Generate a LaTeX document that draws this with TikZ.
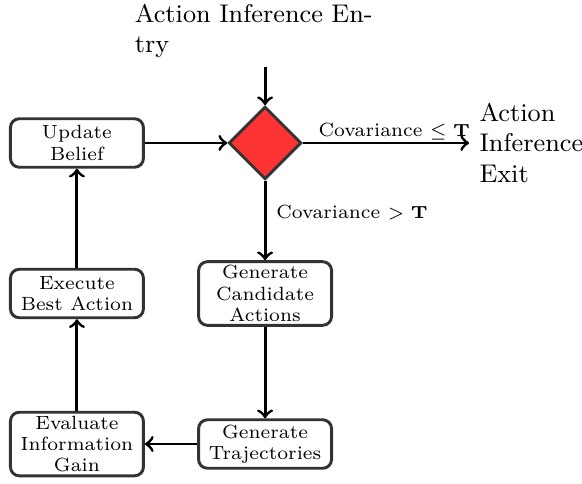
\documentclass[tikz,border=0pt]{standalone}
\usepackage{amsmath, amssymb}
\usepackage{tikz}
\usetikzlibrary{arrows,shapes}
\usepackage{xcolor}
\newcommand{\boxfont}{\fontsize{6.5}{7.2}\selectfont}
\newcommand{\termfont}{\fontsize{8.7}{10.4}\selectfont}
\tikzstyle{process}=[draw=black!80, line width=1pt, rounded corners=3pt, fill=white,
  minimum width=1.59cm, minimum height=.58cm, inner sep=1.3pt, align=center, font=\boxfont]
\tikzstyle{decision}=[diamond, draw=black!80, line width=1pt, fill=red!80!white,
  minimum size=.87cm, inner sep=0pt]
\tikzstyle{flow}=[->, line width=1pt]

\begin{document}
\begin{tikzpicture}
 \useasboundingbox (-3.17,-4.075) rectangle (3.79,1.71);
%
 \node[decision] (decide) at (0,0) {};
 \coordinate (entry) at (0,.91);
 \node[anchor=north west, inner sep=0pt, text width=2.9cm, font=\termfont] (entrytext) at (-1.565,1.67) {Action Inference Entry};
 \node[anchor=west, align=left, font=\termfont] (exit) at (2.44,0) {Action\\Inference\\Exit};
%
 \node[process] (update) at (-2.25,0) {Update\\Belief};
 \node[process] (execute) at (-2.25,-1.8) {Execute\\Best Action};
 \node[process] (evaluate) at (-2.25,-3.6) {Evaluate\\Information\\Gain};
 \node[process] (candidates) at (0,-1.8) {Generate\\Candidate\\Actions};
 \node[process] (trajectories) at (0,-3.6) {Generate\\Trajectories};
%
 \draw[flow] (entry) -- (decide);
 \draw[flow] (decide) -- node[pos=.55, above, inner sep=.5pt, font=\boxfont] {Covariance $\leq \mathbf{T}$} (exit);
 \draw[flow] (decide) -- node[pos=.4, right, font=\boxfont] {Covariance $> \mathbf{T}$} (candidates);
 \draw[flow] (candidates) -- (trajectories);
 \draw[flow] (trajectories) -- (evaluate);
 \draw[flow] (evaluate) -- (execute);
 \draw[flow] (execute) -- (update);
 \draw[flow] (update) -- (decide);
\end{tikzpicture}
\end{document}
